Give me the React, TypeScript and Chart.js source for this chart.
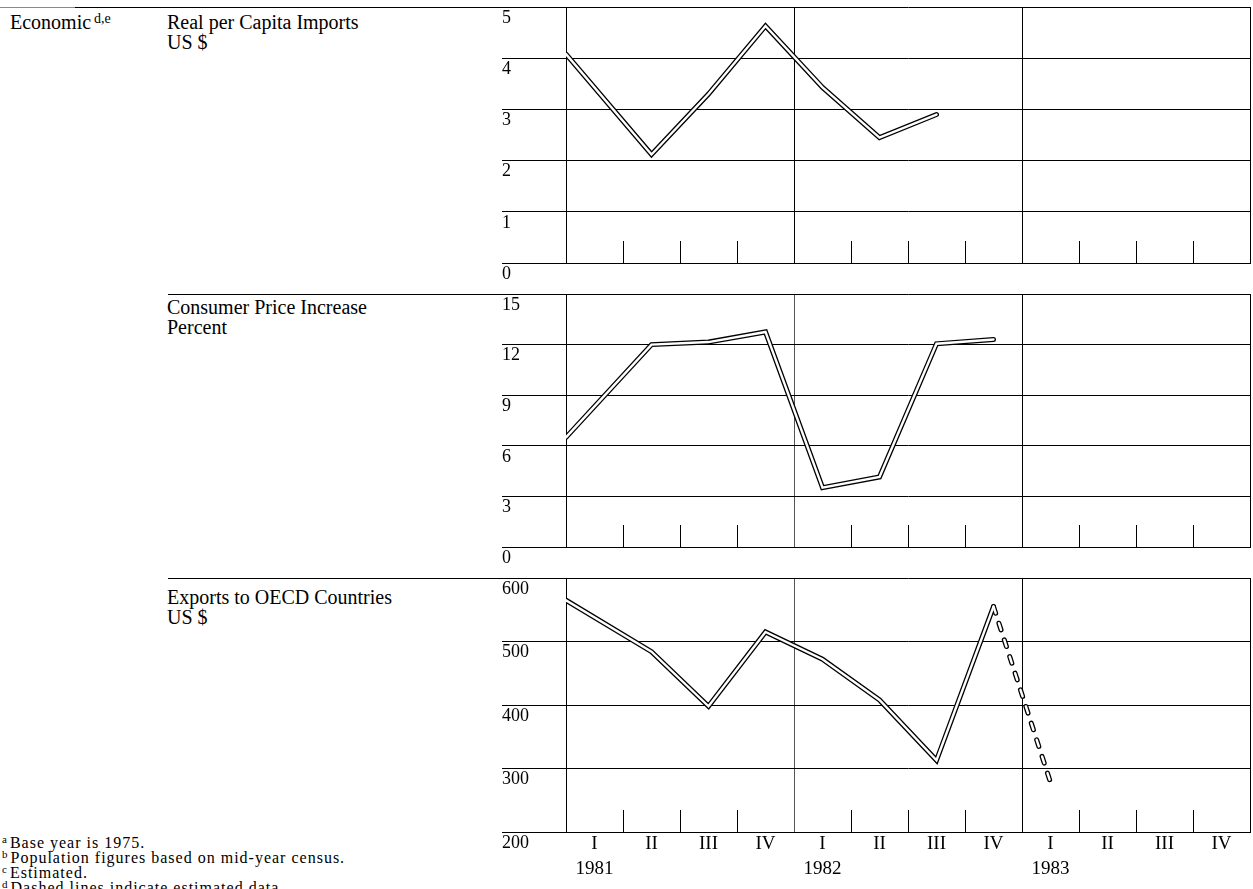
import React, { useEffect, useRef } from "react";
import { Chart, registerables } from "chart.js";

Chart.register(...registerables);

const SERIF = '"Liberation Serif", "Times New Roman", serif';

// ---- Axis labels ----
const quarterLabels = ["I", "II", "III", "IV", "I", "II", "III", "IV", "I", "II", "III", "IV"];
const yearLabels = ["1981", "1982", "1983"];
const quarterBoundaries = [1, 2, 3, 5, 6, 7, 9, 10, 11];
const yearBoundaries = [0, 4, 8, 12];

// ---- Panel 1: Real per Capita Imports (US $) ----
const importsTicks = [0, 1, 2, 3, 4, 5];
const importsX = [0, 1.5, 2.5, 3.5, 4.5, 5.5, 6.5];
const importsY = [4.08, 2.12, 3.3, 4.63, 3.43, 2.45, 2.9];

// ---- Panel 2: Consumer Price Increase (Percent) ----
const cpiTicks = [0, 3, 6, 9, 12, 15];
const cpiX = [0, 1.5, 2.5, 3.5, 4.5, 5.5, 6.5, 7.5];
const cpiY = [6.5, 12.0, 12.15, 12.75, 3.52, 4.15, 12.05, 12.3];

// ---- Panel 3: Exports to OECD Countries (US $) ----
const exportsTicks = [200, 300, 400, 500, 600];
const exportsX = [0, 1.5, 2.5, 3.5, 4.5, 5.5, 6.5, 7.5];
const exportsY = [565, 484, 398, 515, 472, 408, 313, 555];
const exportsEstX = [7.5, 8.5];
const exportsEstY = [555, 278];

type Series = { xs: number[]; ys: number[]; dashed?: boolean };

const quarterTickPlugin = {
  id: "quarterTicks",
  beforeDatasetsDraw(chart: any) {
    const { ctx, chartArea, scales } = chart;
    const xs = scales.x;
    ctx.save();
    ctx.strokeStyle = "#000";
    ctx.lineWidth = 1;
    for (const q of quarterBoundaries) {
      const px = Math.round(xs.getPixelForValue(q)) + 0.5;
      ctx.beginPath();
      ctx.moveTo(px, chartArea.bottom);
      ctx.lineTo(px, chartArea.bottom - 22);
      ctx.stroke();
    }
    ctx.restore();
  },
};

function xLabel(v: number): string | string[] {
  const frac = v - Math.floor(v);
  if (Math.abs(frac - 0.5) > 1e-6) return "";
  const q = Math.floor(v);
  const roman = quarterLabels[q];
  if (q % 4 === 0) return [roman, yearLabels[q / 4]];
  return roman;
}

function buildConfig(p: {
  series: Series[];
  ticks: number[];
  showX: boolean;
  padding: { top: number; bottom: number };
  dividerColor: string;
}) {
  const datasets: any[] = [];
  for (const s of p.series) {
    const data = s.xs.map((x, i) => ({ x, y: s.ys[i] }));
    const dash = s.dashed ? [7, 10.5] : [];
    datasets.push({
      data,
      borderColor: "#000",
      borderWidth: 5,
      borderCapStyle: "round",
      borderJoinStyle: "miter",
      borderDash: dash,
      pointRadius: 0,
      tension: 0,
      fill: false,
      order: 2,
    });
    datasets.push({
      data,
      borderColor: "#fff",
      borderWidth: 2.4,
      borderCapStyle: "round",
      borderJoinStyle: "miter",
      borderDash: dash,
      pointRadius: 0,
      tension: 0,
      fill: false,
      order: 1,
    });
  }
  const xVals: number[] = [];
  for (let i = 0; i <= 24; i++) xVals.push(i / 2);
  return {
    type: "line",
    data: { datasets },
    plugins: [quarterTickPlugin],
    options: {
      animation: false,
      responsive: false,
      events: [],
      layout: { padding: { left: 2, right: 3, top: p.padding.top, bottom: p.padding.bottom } },
      plugins: { legend: { display: false }, tooltip: { enabled: false } },
      scales: {
        x: {
          type: "linear",
          min: 0,
          max: 12,
          afterBuildTicks: (axis: any) => {
            axis.ticks = xVals.map((v) => ({ value: v }));
          },
          grid: {
            drawTicks: false,
            lineWidth: 1,
            color: (c: any) => {
              const v = c.tick ? c.tick.value : -1;
              if (v === 4) return p.dividerColor;
              return yearBoundaries.includes(v) ? "#000" : "rgba(0,0,0,0)";
            },
          },
          border: { display: true, color: "#000", width: 1 },
          ticks: {
            display: p.showX,
            autoSkip: false,
            maxRotation: 0,
            minRotation: 0,
            padding: 0,
            color: "#000",
            font: { family: SERIF, size: 19, lineHeight: 1.3 },
            callback: (v: any) => xLabel(Number(v)),
          },
          afterFit: (s: any) => {
            s.height = p.showX ? 57 : 0;
            s.paddingLeft = 0;
            s.paddingRight = 0;
          },
        },
        y: {
          type: "linear",
          min: p.ticks[0],
          max: p.ticks[p.ticks.length - 1],
          afterBuildTicks: (axis: any) => {
            axis.ticks = p.ticks.map((v) => ({ value: v }));
          },
          grid: { color: "#000", lineWidth: 1, drawTicks: true, tickLength: 64, tickColor: "#000" },
          border: { display: true, color: "#000", width: 1 },
          ticks: {
            crossAlign: "far",
            labelOffset: 11,
            padding: 0,
            color: "#000",
            font: { family: SERIF, size: 18 },
          },
          afterFit: (s: any) => {
            s.width = 64;
            s.paddingTop = 0;
            s.paddingBottom = 0;
          },
        },
      },
    },
  };
}

function Panel(props: {
  top: number;
  height: number;
  series: Series[];
  ticks: number[];
  showX: boolean;
  padding: { top: number; bottom: number };
  dividerColor: string;
}) {
  const ref = useRef<HTMLCanvasElement | null>(null);
  useEffect(() => {
    if (!ref.current) return;
    const chart = new Chart(ref.current, buildConfig(props) as any);
    return () => chart.destroy();
  }, []);
  return (
    <canvas
      ref={ref}
      width={753}
      height={props.height}
      style={{ position: "absolute", left: 500, top: props.top, width: 753, height: props.height }}
    />
  );
}

function Line2(props: { left: number; baseline: number; lines: React.ReactNode[] }) {
  return (
    <div
      style={{
        position: "absolute",
        left: props.left,
        top: props.baseline - 16.75,
        fontFamily: SERIF,
        fontSize: 20,
        lineHeight: "20px",
        whiteSpace: "nowrap",
        color: "#000",
      }}
    >
      {props.lines.map((l, i) => (
        <div key={i}>{l}</div>
      ))}
    </div>
  );
}

const footnotes: [string, string][] = [
  ["a", "Base year is 1975."],
  ["b", "Population figures based on mid-year census."],
  ["c", "Estimated."],
  ["d", "Dashed lines indicate estimated data."],
];

export default function App() {
  return (
    <div
      style={{
        position: "absolute",
        left: 0,
        top: 0,
        width: 1253,
        height: 889,
        overflow: "hidden",
        background: "#fff",
      }}
    >
      {/* header rules */}
      <div style={{ position: "absolute", left: 0, top: 7, width: 75, height: 1, background: "#888" }} />
      <div style={{ position: "absolute", left: 75, top: 7, width: 430, height: 1, background: "#000" }} />
      <div style={{ position: "absolute", left: 168, top: 294, width: 336, height: 1, background: "#000" }} />
      <div style={{ position: "absolute", left: 168, top: 578, width: 336, height: 1, background: "#000" }} />

      <Line2
        left={10}
        baseline={29}
        lines={[
          <span>
            Economic
            <span style={{ fontSize: 14, position: "relative", top: -6, marginLeft: 3 }}>d,e</span>
          </span>,
        ]}
      />
      <Line2 left={167} baseline={29} lines={["Real per Capita Imports", "US $"]} />
      <Line2 left={167} baseline={314} lines={["Consumer Price Increase", "Percent"]} />
      <Line2 left={167} baseline={604} lines={["Exports to OECD Countries", "US $"]} />

      {footnotes.map(([m, t], i) => (
        <div
          key={i}
          style={{
            position: "absolute",
            left: 2,
            top: 835 + i * 15,
            fontFamily: SERIF,
            fontSize: 16,
            lineHeight: "16px",
            whiteSpace: "nowrap",
            letterSpacing: 1.0,
            color: "#000",
          }}
        >
          <span style={{ fontSize: 11, position: "relative", top: -5, marginRight: 2 }}>{m}</span>
          {t}
        </div>
      ))}

      <Panel
        top={0}
        height={290}
        series={[{ xs: importsX, ys: importsY }]}
        ticks={importsTicks}
        showX={false}
        padding={{ top: 7, bottom: 27 }}
        dividerColor="#000"
      />
      <Panel
        top={280}
        height={290}
        series={[{ xs: cpiX, ys: cpiY }]}
        ticks={cpiTicks}
        showX={false}
        padding={{ top: 14, bottom: 23 }}
        dividerColor="#555"
      />
      <Panel
        top={565}
        height={324}
        series={[
          { xs: exportsX, ys: exportsY },
          { xs: exportsEstX, ys: exportsEstY, dashed: true },
        ]}
        ticks={exportsTicks}
        showX={true}
        padding={{ top: 13, bottom: 0 }}
        dividerColor="#555"
      />
    </div>
  );
}
